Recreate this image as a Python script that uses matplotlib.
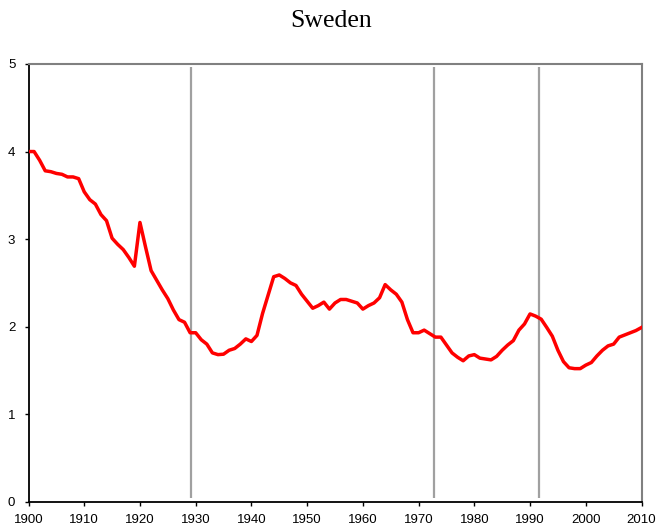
import matplotlib
matplotlib.use("Agg")
import matplotlib.pyplot as plt
import numpy as np

years = list(range(1900, 2011))
tfr = [
    4.00, 4.00, 3.90, 3.78, 3.77, 3.75, 3.74, 3.71, 3.71, 3.69,   # 1900-1909
    3.54, 3.45, 3.40, 3.28, 3.21, 3.01, 2.94, 2.88, 2.79, 2.69,   # 1910-1919
    3.19, 2.91, 2.64, 2.53, 2.42, 2.32, 2.19, 2.08, 2.05, 1.93,   # 1920-1929
    1.93, 1.85, 1.80, 1.70, 1.68, 1.685, 1.73, 1.75, 1.80, 1.86, # 1930-1939
    1.83, 1.90, 2.15, 2.36, 2.57, 2.59, 2.55, 2.50, 2.47, 2.37,   # 1940-1949
    2.29, 2.21, 2.24, 2.28, 2.20, 2.27, 2.31, 2.31, 2.29, 2.27,   # 1950-1959
    2.20, 2.24, 2.27, 2.33, 2.48, 2.42, 2.37, 2.28, 2.08, 1.93,   # 1960-1969
    1.93, 1.96, 1.92, 1.88, 1.88, 1.79, 1.70, 1.65, 1.61, 1.665, # 1970-1979
    1.68, 1.64, 1.63, 1.62, 1.66, 1.73, 1.79, 1.84, 1.96, 2.03,   # 1980-1989
    2.145, 2.12, 2.085, 1.99, 1.89, 1.73, 1.60, 1.53, 1.52, 1.52, # 1990-1999
    1.56, 1.59, 1.665, 1.73, 1.78, 1.80, 1.88, 1.905, 1.93, 1.955, # 2000-2009
    1.99,                                                           # 2010
]
marker_years = [1929.1, 1972.7, 1991.6]
x_ticks = list(range(1900, 2011, 10))
y_ticks = [0, 1, 2, 3, 4, 5]
title = "Sweden"

W, H = 659, 529
fig = plt.figure(figsize=(W / 100, H / 100), dpi=100)
ax = fig.add_axes([28.5 / W, 1 - 501.7 / H, (641.5 - 28.5) / W, (501.7 - 64) / H])

for xv in marker_years:
    ax.plot([xv, xv], [0.04, 4.97], color="#a0a0a0", lw=1.6, solid_capstyle="butt", zorder=1)

ax.plot(years, tfr, color="#ff0000", lw=2.5, zorder=3, solid_joinstyle="round")

ax.set_xlim(1900, 2010)
ax.set_ylim(0, 5)
ax.set_xticks(x_ticks)
ax.set_yticks(y_ticks)
ax.set_xticklabels([str(v) for v in x_ticks], fontsize=9.5, family="Liberation Sans")
ax.set_yticklabels([str(v) for v in y_ticks], fontsize=9.5, family="Liberation Sans")
ax.tick_params(axis="both", direction="out", length=3, width=1, color="#000000")
ax.tick_params(axis="x", pad=5.5)
ax.tick_params(axis="y", pad=6.5)

for s in ["left", "bottom"]:
    ax.spines[s].set_color("#000000")
    ax.spines[s].set_linewidth(1.3)
for s in ["top", "right"]:
    ax.spines[s].set_color("#808080")
    ax.spines[s].set_linewidth(1.5)

fig.text(331 / W, 1 - 27 / H, title, ha="center", va="baseline",
         fontsize=18.5, family="Liberation Serif")

fig.savefig("out.png", dpi=100)
